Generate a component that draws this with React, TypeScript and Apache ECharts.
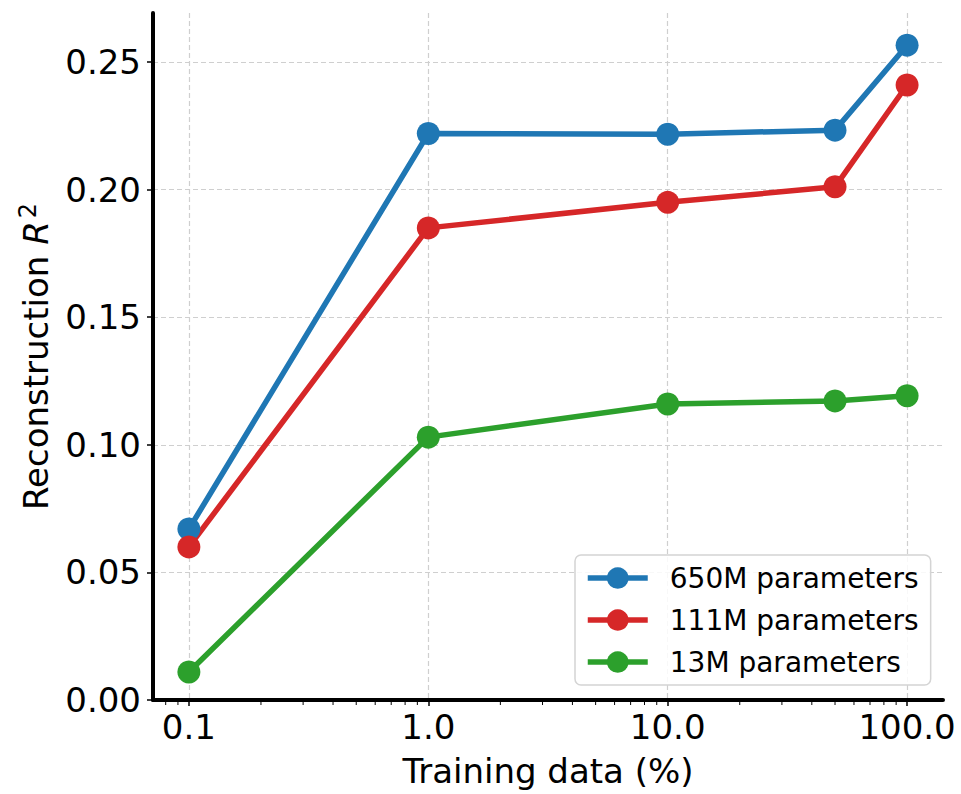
import React, { useEffect, useRef } from "react";
import * as echarts from "echarts";

const trainingPct = [0.1, 1, 10, 50, 100];
const r2_650M = [0.067, 0.222, 0.2217, 0.2233, 0.2566];
const r2_111M = [0.06, 0.185, 0.195, 0.2011, 0.241];
const r2_13M = [0.011, 0.103, 0.116, 0.1172, 0.1192];

const seriesNames = ["650M parameters", "111M parameters", "13M parameters"];
const seriesColors = ["#1f77b4", "#d62728", "#2ca02c"];

const xMajorTicks = [0.1, 1, 10, 100];
const xMinorTicks = [
  0.08, 0.09,
  0.2, 0.3, 0.4, 0.5, 0.6, 0.7, 0.8, 0.9,
  2, 3, 4, 5, 6, 7, 8, 9,
  20, 30, 40, 50, 60, 70, 80, 90,
];
const yTicks = [0, 0.05, 0.1, 0.15, 0.2, 0.25];

const X_MIN = 0.0708;
const X_MAX = 141.25;
const Y_MIN = 0;
const Y_MAX = 0.2692;

const FONT = "DejaVu Sans";

export default function App() {
  const ref = useRef<HTMLDivElement>(null);

  useEffect(() => {
    if (!ref.current) return;
    const chart = echarts.init(ref.current, undefined, { renderer: "svg" });
    const allValues = [r2_650M, r2_111M, r2_13M];

    const lineSeries = allValues.map((vals, i) => ({
      name: seriesNames[i],
      type: "line",
      data: trainingPct.map((x, j) => [x, vals[j]]),
      symbol: "circle",
      symbolSize: 23,
      showSymbol: true,
      lineStyle: { width: 5.5, color: seriesColors[i] },
      itemStyle: { color: seriesColors[i] },
      z: 3,
    }));

    const option: any = {
      animation: false,
      backgroundColor: "#ffffff",
      grid: { left: 153, right: 18, top: 13, bottom: 94, containLabel: false },
      legend: {
        data: seriesNames,
        orient: "vertical",
        left: 575,
        top: 555,
        padding: [9, 12, 9, 10],
        itemWidth: 60,
        itemHeight: 27,
        itemGap: 14,
        backgroundColor: "rgba(255,255,255,0.85)",
        borderColor: "#d4d4d4",
        borderWidth: 1.5,
        borderRadius: 6,
        lineStyle: { width: 5.5 },
        textStyle: {
          fontFamily: FONT,
          fontSize: 28,
          lineHeight: 28,
          color: "#000",
          padding: [0, 0, 0, 17],
        },
      },
      xAxis: {
        type: "log",
        logBase: 10,
        min: X_MIN,
        max: X_MAX,
        name: "Training data (%)",
        nameLocation: "middle",
        nameGap: 54,
        nameTextStyle: { fontFamily: FONT, fontSize: 34, color: "#000" },
        axisLine: { show: true, onZero: false, lineStyle: { color: "#000", width: 4 } },
        axisTick: {
          show: true,
          customValues: xMajorTicks,
          length: 6,
          lineStyle: { color: "#000", width: 1.5 },
        },
        minorTick: { show: false },
        axisLabel: {
          customValues: xMajorTicks,
          fontFamily: FONT,
          fontSize: 34,
          color: "#000",
          margin: 10,
          formatter: (v: number) => Number(v).toFixed(1),
        },
        splitLine: {
          show: true,
          lineStyle: { color: "#cfcfcf", width: 1.2, type: [5, 3] },
        },
      },
      yAxis: {
        type: "value",
        min: Y_MIN,
        max: Y_MAX,
        name: "{a|Reconstruction }{b|R}{c|2}",
        nameLocation: "middle",
        nameGap: 100,
        nameTextStyle: {
          fontFamily: FONT,
          fontSize: 34,
          color: "#000",
          rich: {
            a: { fontFamily: FONT, fontSize: 34, lineHeight: 34, verticalAlign: "bottom", color: "#000" },
            b: { fontFamily: FONT, fontSize: 34, lineHeight: 34, verticalAlign: "bottom", fontStyle: "italic", color: "#000" },
            c: { fontFamily: FONT, fontSize: 24, lineHeight: 24, verticalAlign: "bottom", padding: [0, 0, 13, 3], color: "#000" },
          },
        },
        axisLine: { show: true, lineStyle: { color: "#000", width: 4 } },
        axisTick: {
          show: true,
          customValues: yTicks,
          length: 6,
          lineStyle: { color: "#000", width: 1.5 },
        },
        axisLabel: {
          customValues: yTicks,
          fontFamily: FONT,
          fontSize: 34,
          color: "#000",
          margin: 12,
          formatter: (v: number) => Number(v).toFixed(2),
        },
        splitLine: {
          show: true,
          lineStyle: { color: "#cfcfcf", width: 1.2, type: [5, 3] },
        },
      },
      series: [
        ...lineSeries,
        {
          name: "minorTicks",
          type: "custom",
          silent: true,
          clip: false,
          z: 5,
          data: xMinorTicks.map((v) => [v, Y_MIN]),
          renderItem: (params: any, api: any) => {
            const p = api.coord([api.value(0), api.value(1)]);
            return {
              type: "line",
              shape: { x1: p[0], y1: p[1] + 1, x2: p[0], y2: p[1] + 5 },
              style: { stroke: "#000", lineWidth: 1 },
            };
          },
        },
      ],
    };

    chart.setOption(option);
    return () => chart.dispose();
  }, []);

  return (
    <div
      ref={ref}
      style={{ position: "absolute", left: 0, top: 0, width: 961, height: 794 }}
    />
  );
}
